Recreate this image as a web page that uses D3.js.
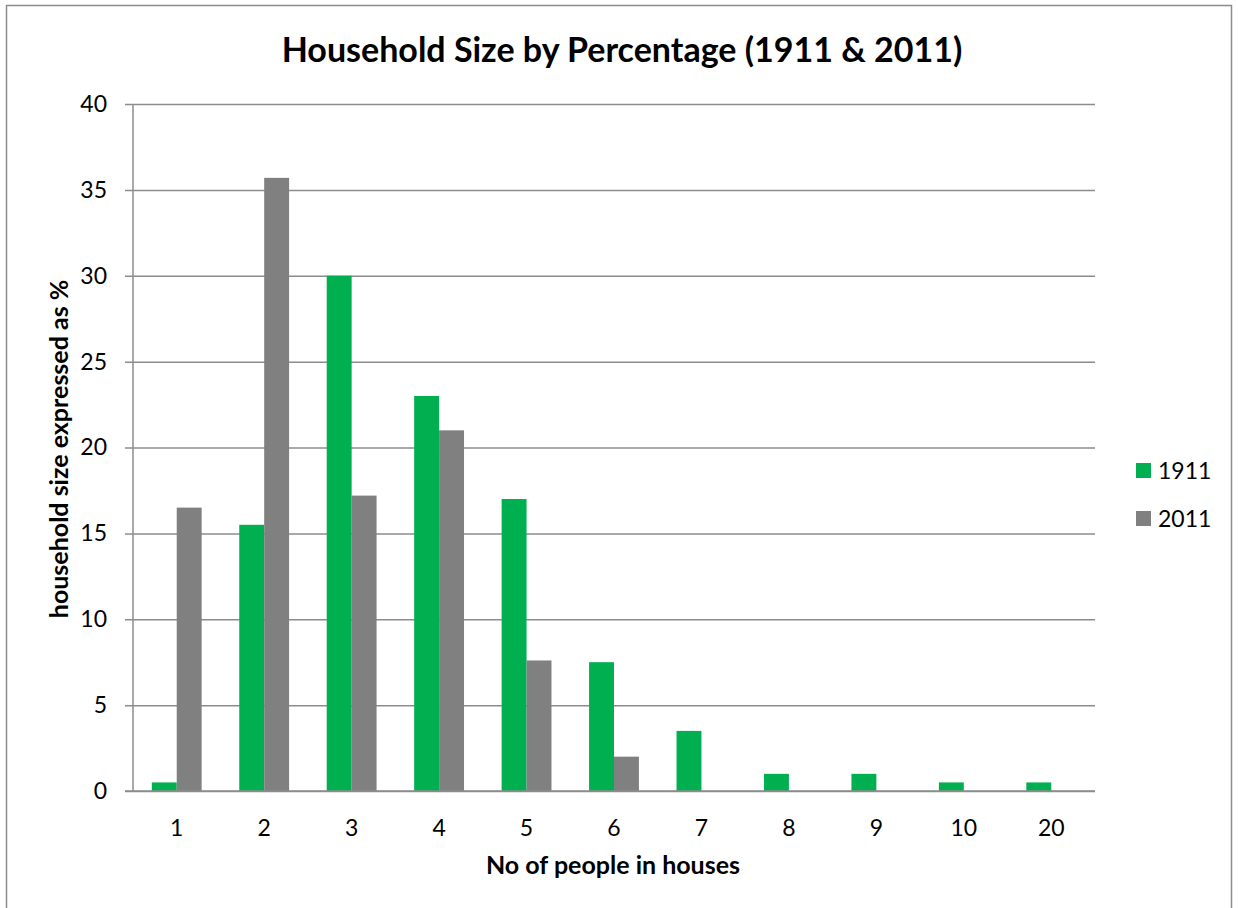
<!DOCTYPE html>
<html>
<head>
<meta charset="utf-8">
<script src="https://cdn.jsdelivr.net/npm/d3@7"></script>
<style>
  html, body { margin: 0; padding: 0; background: #fff; }
  svg { display: block; font-family: Lato, "Open Sans", sans-serif; }
</style>
</head>
<body>
<svg id="chart" width="1238" height="908"></svg>
<script>
// Household size categories and the share of households (%) in each
const categories = ["1", "2", "3", "4", "5", "6", "7", "8", "9", "10", "20"];
const seriesNames = ["1911", "2011"];
const values1911 = [0.5, 15.5, 30, 23, 17, 7.5, 3.5, 1, 1, 0.5, 0.5];
const values2011 = [16.5, 35.7, 17.2, 21, 7.6, 2, 0, 0, 0, 0, 0];
const yTicks = [0, 5, 10, 15, 20, 25, 30, 35, 40];
const colors = ["#00B050", "#808080"];

const svg = d3.select("#chart");
const W = 1238, H = 908;
const plot = { left: 133, right: 1095, top: 104, bottom: 791 };

// outer frame
svg.append("rect")
  .attr("x", 6.5).attr("y", 5.5)
  .attr("width", 1225).attr("height", H + 10)
  .attr("fill", "#fff").attr("stroke", "#8c8c8c").attr("stroke-width", 1.5);

const x = d3.scaleBand().domain(categories)
  .range([plot.left, plot.right]).paddingInner(0.43).paddingOuter(0.215);
const xs = d3.scaleBand().domain(seriesNames).range([0, x.bandwidth()]);
const y = d3.scaleLinear().domain([0, 40]).range([plot.bottom, plot.top]);

// horizontal gridlines with outward tick marks
const yAxis = d3.axisLeft(y).tickValues(yTicks)
  .tickSize(-(plot.right - plot.left)).tickPadding(26).tickSizeOuter(0);
const gy = svg.append("g").attr("transform", `translate(${plot.left},0)`).call(yAxis);
gy.select(".domain").remove();
gy.selectAll(".tick line").attr("stroke", "#8c8c8c").attr("stroke-width", 1.5)
  .attr("x1", -8);
gy.selectAll(".tick text").attr("font-size", 23).attr("fill", "#000")
  .attr("font-family", "Lato, 'Open Sans', sans-serif");

// y axis line
svg.append("line")
  .attr("x1", plot.left).attr("x2", plot.left)
  .attr("y1", plot.top).attr("y2", plot.bottom)
  .attr("stroke", "#8c8c8c").attr("stroke-width", 1.5);

// bars
const rows = categories.map((c, i) => ({ cat: c, vals: [values1911[i], values2011[i]] }));
const groups = svg.append("g").selectAll("g").data(rows).join("g")
  .attr("transform", d => `translate(${x(d.cat)},0)`);
groups.selectAll("rect")
  .data(d => d.vals.map((v, j) => ({ series: seriesNames[j], v, j })))
  .join("rect")
  .attr("x", d => xs(d.series))
  .attr("width", xs.bandwidth())
  .attr("y", d => y(d.v))
  .attr("height", d => y(0) - y(d.v))
  .attr("fill", d => colors[d.j]);

// baseline redrawn over bars
svg.append("line")
  .attr("x1", plot.left - 8).attr("x2", plot.right)
  .attr("y1", plot.bottom).attr("y2", plot.bottom)
  .attr("stroke", "#8c8c8c").attr("stroke-width", 1.5);

// x axis labels
const xAxis = d3.axisBottom(x).tickSize(0).tickPadding(29);
const gx = svg.append("g").attr("transform", `translate(0,${plot.bottom})`).call(xAxis);
gx.select(".domain").remove();
gx.selectAll(".tick text").attr("font-size", 23).attr("fill", "#000")
  .attr("font-family", "Lato, 'Open Sans', sans-serif");

// title
svg.append("text")
  .attr("x", 622).attr("y", 62)
  .attr("text-anchor", "middle")
  .attr("font-size", 34).attr("font-weight", "bold")
  .text("Household Size by Percentage (1911 & 2011)");

// axis titles
svg.append("text")
  .attr("x", 613).attr("y", 874)
  .attr("text-anchor", "middle")
  .attr("font-size", 25).attr("font-weight", "bold")
  .text("No of people in houses");

svg.append("text")
  .attr("transform", "translate(68,449) rotate(-90)")
  .attr("text-anchor", "middle")
  .attr("font-size", 25).attr("font-weight", "bold")
  .text("household size expressed as %");

// legend
const legend = svg.append("g").selectAll("g").data(seriesNames).join("g")
  .attr("transform", (d, i) => `translate(1136,${463 + i * 48})`);
legend.append("rect").attr("width", 15).attr("height", 15)
  .attr("fill", (d, i) => colors[i]);
legend.append("text").attr("x", 22).attr("y", 16)
  .attr("font-size", 23).attr("fill", "#000")
  .text(d => d);
</script>
</body>
</html>
